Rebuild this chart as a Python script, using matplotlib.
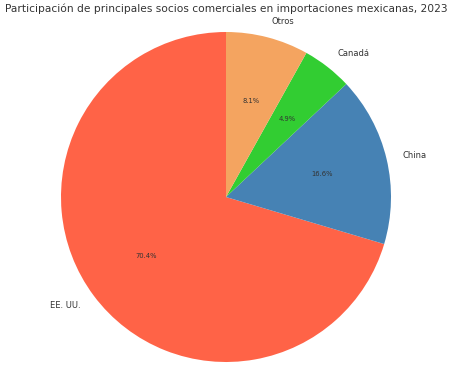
import matplotlib

matplotlib.use("Agg")
import matplotlib.pyplot as plt

socios = ["EE. UU.", "China", "Canadá", "Otros"]
participacion = [70.4, 16.6, 4.9, 8.1]
colores = ["tomato", "steelblue", "limegreen", "sandybrown"]

fig = plt.figure(figsize=(4.53, 3.82), dpi=100)
radio_px = 165
ax = fig.add_axes([(226 - radio_px) / 453, (185 - radio_px) / 382, 2 * radio_px / 453, 2 * radio_px / 382])

wedges, textos, autotextos = ax.pie(
    participacion,
    labels=socios,
    colors=colores,
    autopct="%1.1f%%",
    startangle=90,
    textprops={"fontsize": 6.0, "color": "#333333"},
)
for t in autotextos:
    t.set_fontsize(4.9)
ax.set_xlim(-1, 1)
ax.set_ylim(-1, 1)
ax.set_aspect("equal")

fig.text(0.5, 0.992, "Participación de principales socios comerciales en importaciones mexicanas, 2023",
         ha="center", va="top", fontsize=7.7, color="#333333")

fig.savefig("out.png", dpi=100, facecolor="white")
